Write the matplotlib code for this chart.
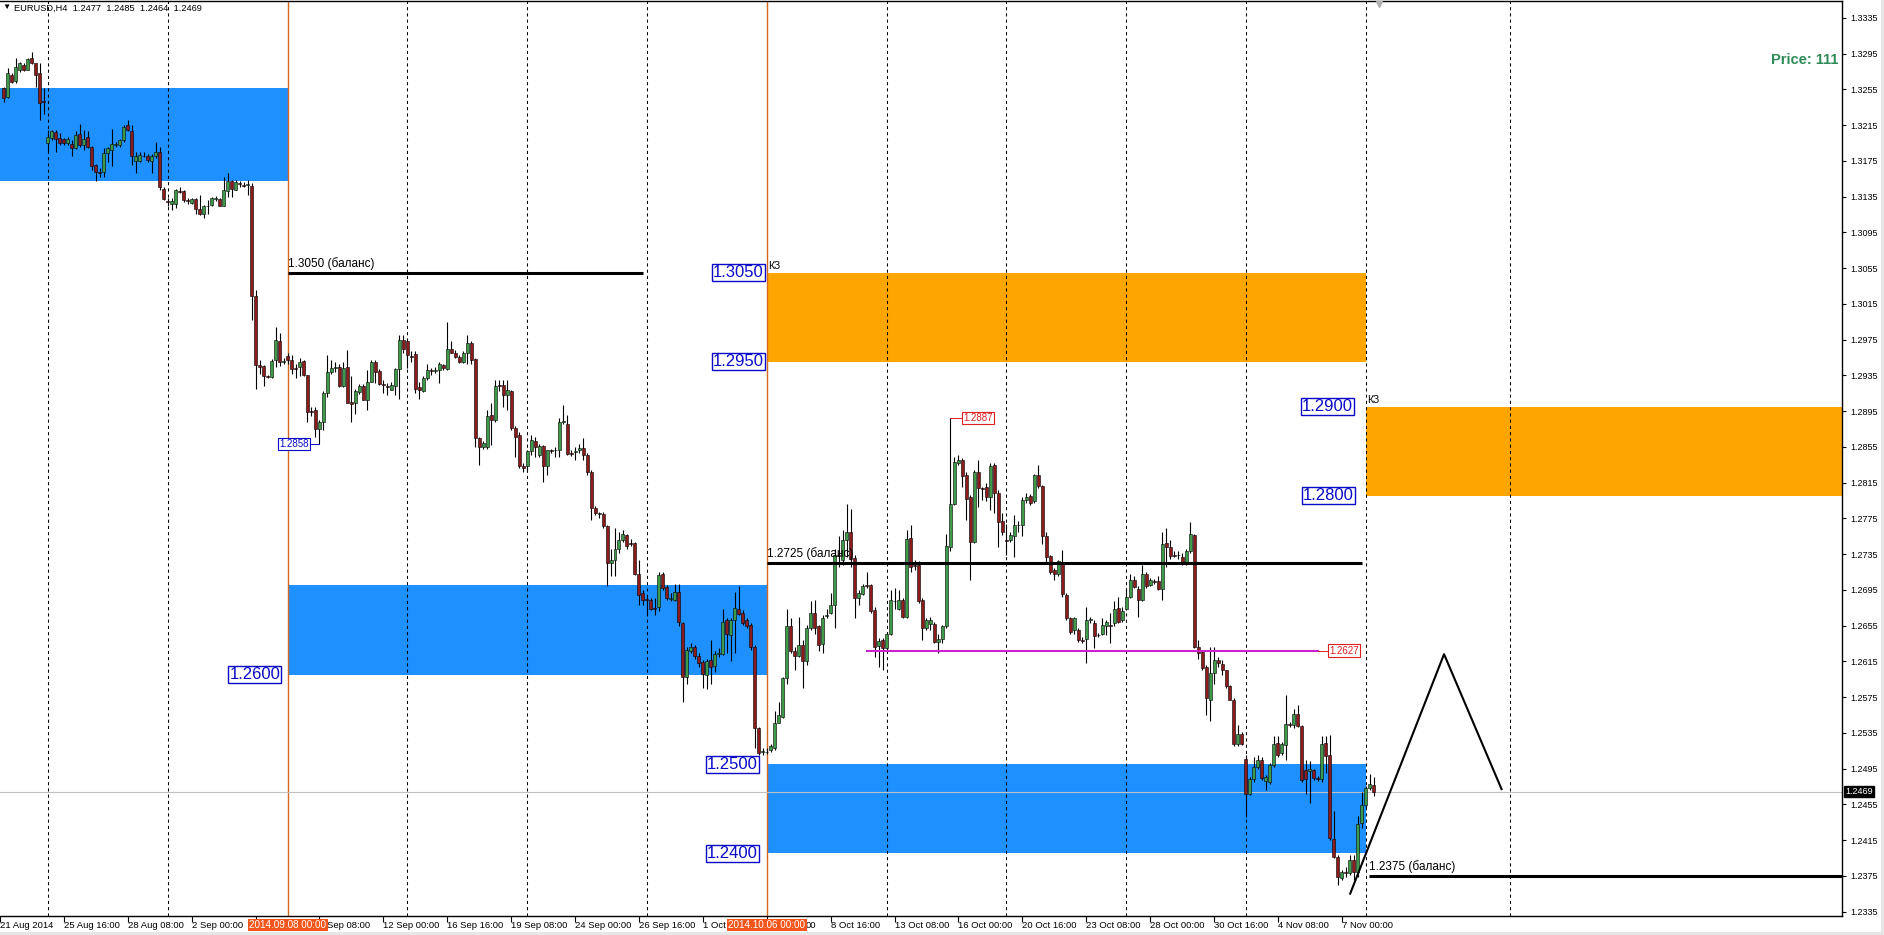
import numpy as np
import matplotlib
matplotlib.use("Agg")
import matplotlib.pyplot as plt
import matplotlib.transforms as mtransforms
from matplotlib.patches import Rectangle

# ---------------- data ----------------
# EURUSD H4 candles, bar index 0 = 2014.09.08 00:00 (weekends skipped)
FIRST_BAR = -71

OPEN = [
    1.3256, 1.3246, 1.3271, 1.3264, 1.3277, 1.3282, 1.3277, 1.3290, 1.3284, 1.3273,
    1.3242, 1.3195, 1.3201, 1.3207, 1.3201, 1.3199, 1.3195, 1.3194, 1.3189, 1.3205,
    1.3193, 1.3202, 1.3191, 1.3170, 1.3162, 1.3162, 1.3184, 1.3187, 1.3193, 1.3193,
    1.3198, 1.3215, 1.3208, 1.3175, 1.3175, 1.3181, 1.3180, 1.3175, 1.3180, 1.3185,
    1.3144, 1.3130, 1.3127, 1.3127, 1.3141, 1.3141, 1.3131, 1.3128, 1.3132, 1.3121,
    1.3116, 1.3124, 1.3126, 1.3132, 1.3132, 1.3125, 1.3141, 1.3153, 1.3142, 1.3150,
    1.3148, 1.3148, 1.3147, 1.3024, 1.2947, 1.2945, 1.2934, 1.2933, 1.2952, 1.2973,
    1.2950, 1.2957, 1.2952, 1.2943, 1.2944, 1.2951, 1.2935, 1.2895, 1.2896, 1.2875,
    1.2883, 1.2915, 1.2939, 1.2943, 1.2944, 1.2923, 1.2944, 1.2905, 1.2904, 1.2916,
    1.2923, 1.2907, 1.2928, 1.2950, 1.2940, 1.2925, 1.2923, 1.2919, 1.2923, 1.2942,
    1.2975, 1.2973, 1.2957, 1.2959, 1.2922, 1.2917, 1.2932, 1.2941, 1.2940, 1.2941,
    1.2947, 1.2942, 1.2964, 1.2960, 1.2956, 1.2950, 1.2960, 1.2971, 1.2953, 1.2865,
    1.2855, 1.2855, 1.2891, 1.2885, 1.2924, 1.2924, 1.2913, 1.2917, 1.2876, 1.2868,
    1.2834, 1.2833, 1.2850, 1.2861, 1.2846, 1.2856, 1.2833, 1.2851, 1.2851, 1.2852,
    1.2883, 1.2881, 1.2848, 1.2849, 1.2851, 1.2854, 1.2846, 1.2827, 1.2786, 1.2780,
    1.2780, 1.2766, 1.2725, 1.2728, 1.2741, 1.2751, 1.2756, 1.2747, 1.2747, 1.2713,
    1.2691, 1.2685, 1.2684, 1.2675, 1.2676, 1.2713, 1.2698, 1.2685, 1.2684, 1.2693,
    1.2658, 1.2598, 1.2627, 1.2631, 1.2621, 1.2614, 1.2600, 1.2616, 1.2610, 1.2623,
    1.2623, 1.2661, 1.2645, 1.2661, 1.2674, 1.2669, 1.2661, 1.2656, 1.2631, 1.2540,
    1.2514, 1.2514, 1.2516, 1.2518, 1.2546, 1.2553, 1.2596, 1.2655, 1.2627, 1.2621,
    1.2633, 1.2615, 1.2652, 1.2669, 1.2654, 1.2634, 1.2666, 1.2669, 1.2678, 1.2734,
    1.2728, 1.2751, 1.2760, 1.2731, 1.2686, 1.2690, 1.2700, 1.2700, 1.2672, 1.2632,
    1.2639, 1.2630, 1.2646, 1.2683, 1.2674, 1.2684, 1.2665, 1.2753, 1.2723, 1.2723,
    1.2684, 1.2652, 1.2657, 1.2657, 1.2637, 1.2640, 1.2654, 1.2743, 1.2791, 1.2837,
    1.2840, 1.2824, 1.2799, 1.2748, 1.2827, 1.2809, 1.2810, 1.2799, 1.2835, 1.2803,
    1.2772, 1.2751, 1.2751, 1.2755, 1.2767, 1.2768, 1.2796, 1.2800, 1.2794, 1.2824,
    1.2811, 1.2755, 1.2733, 1.2717, 1.2713, 1.2725, 1.2689, 1.2663, 1.2650, 1.2650,
    1.2639, 1.2640, 1.2661, 1.2658, 1.2645, 1.2646, 1.2654, 1.2656, 1.2658, 1.2675,
    1.2661, 1.2674, 1.2687, 1.2706, 1.2696, 1.2684, 1.2713, 1.2700, 1.2705, 1.2705,
    1.2696, 1.2747, 1.2743, 1.2734, 1.2734, 1.2732, 1.2725, 1.2738, 1.2756, 1.2631,
    1.2625, 1.2609, 1.2572, 1.2602, 1.2617, 1.2612, 1.2605, 1.2587, 1.2572, 1.2523,
    1.2534, 1.2506, 1.2467, 1.2483, 1.2497, 1.2505, 1.2481, 1.2480, 1.2499, 1.2524,
    1.2512, 1.2521, 1.2545, 1.2544, 1.2556, 1.2543, 1.2493, 1.2492, 1.2493, 1.2484,
    1.2483, 1.2524, 1.2510, 1.2416, 1.2396, 1.2373, 1.2379, 1.2378, 1.2393, 1.2379,
    1.2434, 1.2454, 1.2473, 1.2477,
]
HIGH = [
    1.3258, 1.3279, 1.3273, 1.3290, 1.3286, 1.3284, 1.3290, 1.3297, 1.3285, 1.3284,
    1.3256, 1.3210, 1.3210, 1.3210, 1.3206, 1.3201, 1.3202, 1.3198, 1.3208, 1.3216,
    1.3210, 1.3208, 1.3192, 1.3172, 1.3167, 1.3189, 1.3191, 1.3211, 1.3196, 1.3200,
    1.3215, 1.3221, 1.3215, 1.3185, 1.3185, 1.3185, 1.3183, 1.3183, 1.3196, 1.3191,
    1.3146, 1.3133, 1.3133, 1.3144, 1.3146, 1.3142, 1.3133, 1.3134, 1.3133, 1.3137,
    1.3126, 1.3131, 1.3135, 1.3136, 1.3133, 1.3157, 1.3161, 1.3154, 1.3154, 1.3152,
    1.3151, 1.3154, 1.3150, 1.3031, 1.2952, 1.2947, 1.2935, 1.2953, 1.2989, 1.2982,
    1.2954, 1.2960, 1.2958, 1.2948, 1.2954, 1.2952, 1.2935, 1.2900, 1.2900, 1.2885,
    1.2917, 1.2958, 1.2952, 1.2950, 1.2948, 1.2950, 1.2963, 1.2934, 1.2920, 1.2925,
    1.2925, 1.2941, 1.2952, 1.2952, 1.2942, 1.2930, 1.2926, 1.2927, 1.2943, 1.2980,
    1.2980, 1.2976, 1.2962, 1.2962, 1.2928, 1.2934, 1.2948, 1.2943, 1.2944, 1.2950,
    1.2948, 1.2995, 1.2973, 1.2963, 1.2958, 1.2962, 1.2980, 1.2973, 1.2954, 1.2866,
    1.2861, 1.2896, 1.2904, 1.2930, 1.2930, 1.2930, 1.2930, 1.2919, 1.2878, 1.2872,
    1.2837, 1.2852, 1.2868, 1.2866, 1.2858, 1.2857, 1.2852, 1.2853, 1.2855, 1.2887,
    1.2902, 1.2891, 1.2851, 1.2855, 1.2858, 1.2865, 1.2848, 1.2829, 1.2789, 1.2782,
    1.2782, 1.2768, 1.2741, 1.2764, 1.2760, 1.2762, 1.2758, 1.2752, 1.2749, 1.2728,
    1.2695, 1.2687, 1.2686, 1.2686, 1.2715, 1.2715, 1.2700, 1.2691, 1.2702, 1.2702,
    1.2659, 1.2631, 1.2635, 1.2633, 1.2624, 1.2616, 1.2618, 1.2639, 1.2626, 1.2630,
    1.2674, 1.2663, 1.2663, 1.2693, 1.2699, 1.2672, 1.2663, 1.2658, 1.2633, 1.2542,
    1.2518, 1.2518, 1.2523, 1.2559, 1.2570, 1.2598, 1.2674, 1.2663, 1.2631, 1.2665,
    1.2639, 1.2656, 1.2682, 1.2684, 1.2656, 1.2667, 1.2674, 1.2691, 1.2741, 1.2755,
    1.2762, 1.2791, 1.2785, 1.2734, 1.2695, 1.2702, 1.2715, 1.2702, 1.2676, 1.2641,
    1.2641, 1.2648, 1.2695, 1.2697, 1.2695, 1.2686, 1.2762, 1.2768, 1.2728, 1.2727,
    1.2686, 1.2663, 1.2665, 1.2659, 1.2646, 1.2656, 1.2758, 1.2887, 1.2844, 1.2846,
    1.2842, 1.2827, 1.2801, 1.2829, 1.2840, 1.2810, 1.2814, 1.2837, 1.2837, 1.2807,
    1.2781, 1.2769, 1.2760, 1.2779, 1.2772, 1.2799, 1.2803, 1.2802, 1.2825, 1.2835,
    1.2812, 1.2760, 1.2734, 1.2719, 1.2728, 1.2740, 1.2691, 1.2665, 1.2665, 1.2652,
    1.2642, 1.2676, 1.2665, 1.2661, 1.2647, 1.2663, 1.2661, 1.2669, 1.2682, 1.2687,
    1.2676, 1.2697, 1.2713, 1.2710, 1.2699, 1.2723, 1.2715, 1.2708, 1.2707, 1.2710,
    1.2760, 1.2764, 1.2751, 1.2738, 1.2738, 1.2736, 1.2741, 1.2771, 1.2758, 1.2639,
    1.2626, 1.2611, 1.2631, 1.2631, 1.2620, 1.2617, 1.2605, 1.2589, 1.2574, 1.2544,
    1.2536, 1.2510, 1.2486, 1.2508, 1.2510, 1.2508, 1.2488, 1.2501, 1.2531, 1.2531,
    1.2525, 1.2577, 1.2547, 1.2562, 1.2566, 1.2544, 1.2505, 1.2503, 1.2495, 1.2487,
    1.2531, 1.2531, 1.2533, 1.2447, 1.2398, 1.2382, 1.2385, 1.2398, 1.2398, 1.2442,
    1.2469, 1.2476, 1.2489, 1.2485,
]
LOW = [
    1.3241, 1.3245, 1.3262, 1.3262, 1.3275, 1.3276, 1.3277, 1.3283, 1.3258, 1.3221,
    1.3228, 1.3185, 1.3198, 1.3185, 1.3193, 1.3193, 1.3193, 1.3180, 1.3188, 1.3191,
    1.3187, 1.3189, 1.3165, 1.3153, 1.3157, 1.3157, 1.3174, 1.3169, 1.3191, 1.3191,
    1.3196, 1.3208, 1.3170, 1.3161, 1.3174, 1.3179, 1.3174, 1.3161, 1.3178, 1.3142,
    1.3131, 1.3124, 1.3120, 1.3122, 1.3139, 1.3129, 1.3127, 1.3127, 1.3116, 1.3114,
    1.3111, 1.3116, 1.3125, 1.3130, 1.3124, 1.3124, 1.3135, 1.3135, 1.3142, 1.3146,
    1.3146, 1.3137, 1.2997, 1.2920, 1.2937, 1.2923, 1.2932, 1.2932, 1.2944, 1.2945,
    1.2948, 1.2948, 1.2937, 1.2932, 1.2934, 1.2934, 1.2883, 1.2889, 1.2866, 1.2858,
    1.2874, 1.2911, 1.2937, 1.2939, 1.2922, 1.2922, 1.2904, 1.2883, 1.2892, 1.2914,
    1.2907, 1.2896, 1.2927, 1.2926, 1.2924, 1.2915, 1.2913, 1.2919, 1.2913, 1.2909,
    1.2960, 1.2943, 1.2950, 1.2915, 1.2909, 1.2916, 1.2930, 1.2935, 1.2938, 1.2926,
    1.2941, 1.2941, 1.2960, 1.2954, 1.2949, 1.2949, 1.2948, 1.2948, 1.2855, 1.2835,
    1.2853, 1.2853, 1.2857, 1.2883, 1.2917, 1.2900, 1.2896, 1.2874, 1.2844, 1.2831,
    1.2827, 1.2827, 1.2846, 1.2844, 1.2844, 1.2816, 1.2824, 1.2848, 1.2844, 1.2844,
    1.2881, 1.2846, 1.2845, 1.2840, 1.2848, 1.2840, 1.2824, 1.2773, 1.2779, 1.2775,
    1.2764, 1.2699, 1.2710, 1.2710, 1.2736, 1.2749, 1.2741, 1.2744, 1.2712, 1.2678,
    1.2678, 1.2667, 1.2672, 1.2667, 1.2671, 1.2695, 1.2684, 1.2683, 1.2683, 1.2654,
    1.2570, 1.2590, 1.2624, 1.2618, 1.2609, 1.2585, 1.2584, 1.2590, 1.2603, 1.2620,
    1.2622, 1.2624, 1.2615, 1.2624, 1.2667, 1.2656, 1.2652, 1.2628, 1.2518, 1.2510,
    1.2510, 1.2511, 1.2514, 1.2516, 1.2546, 1.2552, 1.2590, 1.2624, 1.2605, 1.2620,
    1.2585, 1.2611, 1.2650, 1.2646, 1.2626, 1.2624, 1.2663, 1.2668, 1.2652, 1.2721,
    1.2723, 1.2732, 1.2721, 1.2664, 1.2678, 1.2689, 1.2697, 1.2669, 1.2620, 1.2609,
    1.2605, 1.2628, 1.2645, 1.2674, 1.2672, 1.2663, 1.2663, 1.2715, 1.2717, 1.2680,
    1.2639, 1.2650, 1.2650, 1.2635, 1.2624, 1.2636, 1.2652, 1.2738, 1.2790, 1.2835,
    1.2810, 1.2773, 1.2706, 1.2747, 1.2788, 1.2796, 1.2794, 1.2784, 1.2781, 1.2743,
    1.2756, 1.2734, 1.2749, 1.2732, 1.2760, 1.2755, 1.2792, 1.2790, 1.2792, 1.2809,
    1.2746, 1.2725, 1.2713, 1.2706, 1.2710, 1.2687, 1.2661, 1.2646, 1.2646, 1.2637,
    1.2635, 1.2613, 1.2658, 1.2630, 1.2642, 1.2645, 1.2645, 1.2635, 1.2654, 1.2658,
    1.2659, 1.2672, 1.2686, 1.2697, 1.2665, 1.2682, 1.2697, 1.2699, 1.2702, 1.2695,
    1.2684, 1.2721, 1.2730, 1.2732, 1.2730, 1.2723, 1.2723, 1.2736, 1.2630, 1.2618,
    1.2605, 1.2555, 1.2548, 1.2590, 1.2609, 1.2600, 1.2585, 1.2572, 1.2520, 1.2520,
    1.2521, 1.2441, 1.2465, 1.2480, 1.2495, 1.2482, 1.2471, 1.2478, 1.2497, 1.2508,
    1.2510, 1.2505, 1.2542, 1.2540, 1.2542, 1.2480, 1.2467, 1.2457, 1.2482, 1.2481,
    1.2480, 1.2490, 1.2415, 1.2395, 1.2365, 1.2370, 1.2374, 1.2376, 1.2370, 1.2374,
    1.2428, 1.2452, 1.2471, 1.2464,
]
CLOSE = [
    1.3245, 1.3273, 1.3263, 1.3280, 1.3284, 1.3277, 1.3289, 1.3284, 1.3271, 1.3240,
    1.3241, 1.3202, 1.3208, 1.3199, 1.3195, 1.3195, 1.3200, 1.3189, 1.3204, 1.3193,
    1.3200, 1.3190, 1.3169, 1.3163, 1.3161, 1.3184, 1.3189, 1.3194, 1.3194, 1.3198,
    1.3213, 1.3210, 1.3180, 1.3181, 1.3182, 1.3180, 1.3176, 1.3180, 1.3185, 1.3146,
    1.3132, 1.3129, 1.3130, 1.3142, 1.3140, 1.3131, 1.3130, 1.3132, 1.3121, 1.3116,
    1.3124, 1.3125, 1.3133, 1.3133, 1.3125, 1.3142, 1.3152, 1.3143, 1.3151, 1.3149,
    1.3147, 1.3149, 1.3024, 1.2947, 1.2944, 1.2934, 1.2933, 1.2951, 1.2975, 1.2950,
    1.2951, 1.2952, 1.2942, 1.2942, 1.2950, 1.2935, 1.2894, 1.2894, 1.2875, 1.2883,
    1.2915, 1.2939, 1.2943, 1.2944, 1.2923, 1.2943, 1.2904, 1.2903, 1.2918, 1.2923,
    1.2907, 1.2928, 1.2950, 1.2939, 1.2925, 1.2924, 1.2922, 1.2924, 1.2942, 1.2975,
    1.2965, 1.2958, 1.2956, 1.2920, 1.2919, 1.2932, 1.2941, 1.2940, 1.2941, 1.2948,
    1.2943, 1.2965, 1.2960, 1.2956, 1.2950, 1.2960, 1.2971, 1.2952, 1.2865, 1.2855,
    1.2859, 1.2889, 1.2885, 1.2923, 1.2923, 1.2913, 1.2919, 1.2876, 1.2866, 1.2833,
    1.2831, 1.2850, 1.2863, 1.2855, 1.2856, 1.2833, 1.2851, 1.2850, 1.2852, 1.2883,
    1.2884, 1.2847, 1.2847, 1.2850, 1.2854, 1.2846, 1.2827, 1.2787, 1.2781, 1.2781,
    1.2766, 1.2725, 1.2728, 1.2741, 1.2751, 1.2758, 1.2744, 1.2746, 1.2713, 1.2689,
    1.2684, 1.2684, 1.2674, 1.2674, 1.2712, 1.2697, 1.2686, 1.2686, 1.2693, 1.2659,
    1.2597, 1.2628, 1.2631, 1.2621, 1.2613, 1.2601, 1.2615, 1.2609, 1.2623, 1.2624,
    1.2659, 1.2646, 1.2661, 1.2675, 1.2668, 1.2658, 1.2655, 1.2631, 1.2540, 1.2512,
    1.2515, 1.2513, 1.2520, 1.2546, 1.2555, 1.2596, 1.2655, 1.2626, 1.2621, 1.2633,
    1.2615, 1.2652, 1.2669, 1.2652, 1.2633, 1.2664, 1.2667, 1.2678, 1.2734, 1.2733,
    1.2751, 1.2760, 1.2730, 1.2686, 1.2691, 1.2699, 1.2699, 1.2671, 1.2631, 1.2638,
    1.2630, 1.2646, 1.2684, 1.2682, 1.2684, 1.2665, 1.2752, 1.2721, 1.2722, 1.2682,
    1.2652, 1.2661, 1.2661, 1.2637, 1.2640, 1.2654, 1.2744, 1.2791, 1.2838, 1.2840,
    1.2822, 1.2797, 1.2749, 1.2827, 1.2809, 1.2808, 1.2799, 1.2834, 1.2803, 1.2771,
    1.2760, 1.2750, 1.2756, 1.2768, 1.2768, 1.2796, 1.2799, 1.2792, 1.2824, 1.2811,
    1.2755, 1.2732, 1.2715, 1.2713, 1.2727, 1.2690, 1.2663, 1.2648, 1.2663, 1.2639,
    1.2638, 1.2661, 1.2662, 1.2643, 1.2644, 1.2656, 1.2659, 1.2655, 1.2674, 1.2659,
    1.2671, 1.2687, 1.2706, 1.2698, 1.2684, 1.2713, 1.2699, 1.2706, 1.2704, 1.2696,
    1.2746, 1.2743, 1.2733, 1.2733, 1.2734, 1.2724, 1.2738, 1.2758, 1.2631, 1.2624,
    1.2607, 1.2574, 1.2602, 1.2617, 1.2613, 1.2605, 1.2587, 1.2572, 1.2523, 1.2534,
    1.2523, 1.2467, 1.2483, 1.2497, 1.2505, 1.2484, 1.2485, 1.2499, 1.2523, 1.2510,
    1.2522, 1.2545, 1.2544, 1.2556, 1.2543, 1.2482, 1.2483, 1.2494, 1.2484, 1.2483,
    1.2523, 1.2509, 1.2417, 1.2396, 1.2374, 1.2379, 1.2378, 1.2393, 1.2379, 1.2433,
    1.2454, 1.2473, 1.2478, 1.2469,
]

PRICE_TICKS = [1.3335, 1.3295, 1.3255, 1.3215, 1.3175, 1.3135, 1.3095, 1.3055, 1.3015,
               1.2975, 1.2935, 1.2895, 1.2855, 1.2815, 1.2775, 1.2735, 1.2695, 1.2655,
               1.2615, 1.2575, 1.2535, 1.2495, 1.2455, 1.2415, 1.2375, 1.2335]

TIME_TICKS = [-72, -56, -40, -24, -8, 8, 24, 40, 56, 72, 88, 104, 120, 136, 152,
              168, 184, 200, 216, 232, 248, 264]
TIME_LABELS = ["21 Aug 2014", "25 Aug 16:00", "28 Aug 08:00", "2 Sep 00:00",
               "4 Sep 16:00", "9 Sep 08:00", "12 Sep 00:00", "16 Sep 16:00",
               "19 Sep 08:00", "24 Sep 00:00", "26 Sep 16:00", "1 Oct 08:00",
               "6 Oct 00:00", "8 Oct 16:00", "13 Oct 08:00", "16 Oct 00:00",
               "20 Oct 16:00", "23 Oct 08:00", "28 Oct 00:00", "30 Oct 16:00",
               "4 Nov 08:00", "7 Nov 00:00"]

GRID_BARS = [-60, -30, 30, 60, 90, 150, 180, 210, 240, 270, 306]
VLINE_BARS = [0, 120]
VLINE_LABELS = ["2014.09.08 00:00", "2014.10.06 00:00"]

# zones: (start bar, end bar, low, high)
BLUE_ZONES = [(-80, 0, 1.3153, 1.3256), (0, 120, 1.2600, 1.2700), (120, 270, 1.2400, 1.2500)]
ORANGE_ZONES = [(120, 270, 1.2950, 1.3050), (270, 400, 1.2800, 1.2900)]
ZONE_TAGS = [(120, 1.3050), (270, 1.2900)]

# zone edge labels: (text, price, bar where the box ends)
ZONE_LABELS = [("1.3050", 1.3050, 119.7), ("1.2950", 1.2950, 119.7),
               ("1.2900", 1.2900, 267.2), ("1.2800", 1.2800, 267.5),
               ("1.2600", 1.2600, -1.3), ("1.2500", 1.2500, 118.2),
               ("1.2400", 1.2400, 118.2)]

# balance lines: (start bar, end bar, price)
BALANCE = [(0, 89, 1.3050), (120, 269, 1.2725), (270.8, 400, 1.2375)]

MAGENTA = (145, 258, 1.2627)
HIGH_MARK = (166, 1.2887)
LOW_MARK = (8, 1.2858)

TREND_BARS = [266.1, 289.6, 304.0]
TREND_PRICES = [1.2355, 1.2623, 1.2472]

LAST_PRICE = CLOSE[-1]

# ---------------- style ----------------
BLUE = "#1E90FF"
ORANGE = "#FFA500"
BULL = "#3C9A48"
BEAR = "#8E1B1B"
VLINE_COLOR = "#D2691E"
DATE_BG = "#F2561C"
LABEL_BLUE = "#0A0AC8"
LABEL_RED = "#E02020"

plt.rcParams["font.family"] = ["Liberation Sans", "DejaVu Sans"]

W, H = 1884, 935
fig = plt.figure(figsize=(W / 100, H / 100), dpi=100)
fig.patch.set_facecolor("white")
ax = fig.add_axes([0, (H - 916) / H, 1842 / W, 915 / H])
ax.set_xlim(-71.25, 389.25)
ax.set_ylim(1.2330, 1.33539)
ax.set_facecolor("white")


def px(dx, dy, base=None):
    return mtransforms.offset_copy(base or ax.transData, fig=fig, x=dx, y=dy, units="dots")


# zones
for x0, x1, lo, hi in BLUE_ZONES:
    ax.add_patch(Rectangle((x0, lo), x1 - x0, hi - lo, color=BLUE, lw=0, zorder=1))
for x0, x1, lo, hi in ORANGE_ZONES:
    ax.add_patch(Rectangle((x0, lo), x1 - x0, hi - lo, color=ORANGE, lw=0, zorder=1))

# grid & vertical lines
for b in GRID_BARS:
    ax.axvline(b, color="black", lw=0.75, ls=(0, (3, 3)), zorder=2)
for b in VLINE_BARS:
    ax.axvline(b, color=VLINE_COLOR, lw=1.0, zorder=2)

ax.axhline(LAST_PRICE, color="#C0C0C0", lw=0.8, zorder=2)

# candles
k = np.arange(FIRST_BAR, FIRST_BAR + len(CLOSE))
o, h, l, c = (np.array(a) for a in (OPEN, HIGH, LOW, CLOSE))
up = c >= o
ax.vlines(k, l, h, color="black", lw=0.8, zorder=4)
ax.bar(k[up], c[up] - o[up], bottom=o[up], width=0.75, color=BULL,
       edgecolor="black", lw=0.4, zorder=5)
ax.bar(k[~up], o[~up] - c[~up], bottom=c[~up], width=0.75, color=BEAR,
       edgecolor="black", lw=0.4, zorder=5)

# balance lines
for x0, x1, p in BALANCE:
    ax.plot([x0, x1], [p, p], color="black", lw=2.2, solid_capstyle="butt", zorder=6)
    ax.text(x0, p, f"{p:.4f} (баланс)", transform=px(0, 3), ha="left", va="bottom",
            fontsize=8.5, color="black", zorder=7)

# magenta level
mx0, mx1, mp = MAGENTA
ax.plot([mx0, mx1], [mp, mp], color="#CC22CC", lw=1.5, zorder=6)
ax.plot([mx1, mx1 + 2.6], [mp, mp], color=LABEL_RED, lw=0.7, zorder=6)
ax.text(mx1 + 2.6, mp, f"{mp:.4f}", transform=px(1, 0), ha="left", va="center",
        fontsize=7, color=LABEL_RED, zorder=8,
        bbox=dict(boxstyle="square,pad=0.12", fc="white", ec=LABEL_RED, lw=0.8))

# swing high / low marks
hb, hp = HIGH_MARK
ax.plot([hb, hb + 3], [hp, hp], color=LABEL_RED, lw=0.7, zorder=6)
ax.text(hb + 3, hp, f"{hp:.4f}", transform=px(1, 0), ha="left", va="center",
        fontsize=7, color=LABEL_RED, zorder=8,
        bbox=dict(boxstyle="square,pad=0.12", fc="white", ec=LABEL_RED, lw=0.8))
lb, lp = LOW_MARK
ax.plot([lb - 2.5, lb], [lp, lp], color=LABEL_BLUE, lw=0.7, zorder=6)
ax.text(lb - 2.5, lp, f"{lp:.4f}", transform=px(-1, 0), ha="right", va="center",
        fontsize=7, color=LABEL_BLUE, zorder=8,
        bbox=dict(boxstyle="square,pad=0.12", fc="white", ec=LABEL_BLUE, lw=0.8))

# zone labels
for txt, p, xb in ZONE_LABELS:
    ax.text(xb, p, txt, transform=px(-2, 0), ha="right", va="center", fontsize=12,
            color=LABEL_BLUE, zorder=8,
            bbox=dict(boxstyle="square,pad=0.06", fc="white", ec=LABEL_BLUE, lw=1.0))
for xb, p in ZONE_TAGS:
    ax.text(xb, p, "КЗ", transform=px(1, 2), ha="left", va="bottom", fontsize=7.5,
            color="black", zorder=8)

# projected path
ax.plot(TREND_BARS, TREND_PRICES, color="black", lw=1.5, zorder=6)

# header & info
ax.text(0.0015, 0.9925, "\u25bc", transform=ax.transAxes, fontsize=6, ha="left",
        va="center", color="black")
ax.text(0.0075, 0.9925, f"EURUSD,H4  {OPEN[-1]:.4f}  {HIGH[-1]:.4f}  {LOW[-1]:.4f}  {CLOSE[-1]:.4f}",
        transform=ax.transAxes, fontsize=6.7, ha="left", va="center", color="black")
ax.text(0.9978, 0.9355, "Price: 111", transform=ax.transAxes, fontsize=10.5,
        fontweight="bold", ha="right", va="center", color="#2E8B57")
ax.plot([273.3], [1.3350], marker="v", color="#B0B0B0", ms=5, clip_on=False, zorder=9)

# axes styling
ax.spines["left"].set_visible(False)
for side in ("top", "right", "bottom"):
    ax.spines[side].set_linewidth(1.0)
    ax.spines[side].set_color("black")

ax.yaxis.tick_right()
ax.set_yticks(PRICE_TICKS, [f"{t:.4f}" for t in PRICE_TICKS])
ax.tick_params(axis="y", length=3, width=0.8, pad=3, labelsize=6.5)
ax.set_xticks(TIME_TICKS, [""] * len(TIME_TICKS))
ax.tick_params(axis="x", length=4, width=0.8)

dt = mtransforms.blended_transform_factory(ax.transData, ax.transAxes)
time_texts = [ax.text(t, 0, s, transform=px(0, -5, dt), ha="left", va="top",
                      fontsize=6.8, clip_on=False)
              for t, s in zip(TIME_TICKS, TIME_LABELS)]

# current price box on price scale
bt = mtransforms.blended_transform_factory(ax.transAxes, ax.transData)
ax.text(1.0, LAST_PRICE, f"{LAST_PRICE:.4f}", transform=px(3, 0, bt), ha="left",
        va="center", fontsize=6.5, color="white", zorder=10, clip_on=False,
        bbox=dict(boxstyle="square,pad=0.12", fc="black", ec="black"))

# date boxes for vertical lines (they sit on top of the time scale)
date_boxes = [ax.text(b, 0, txt, transform=px(0, -9, dt), ha="center", va="center",
                      fontsize=7.1, color="white", zorder=10, clip_on=False,
                      bbox=dict(boxstyle="square,pad=0.15", fc=DATE_BG, ec="none"))
              for b, txt in zip(VLINE_BARS, VLINE_LABELS)]

# the date boxes hide parts of the time labels: keep only the visible part
fig.canvas.draw()
rend = fig.canvas.get_renderer()
covers = [t.get_bbox_patch().get_window_extent(rend) for t in date_boxes]
for tt in time_texts:
    for bb in covers:
        ext = tt.get_window_extent(rend)
        if not (ext.x1 > bb.x0 and ext.x0 < bb.x1):
            continue
        s = tt.get_text()
        if ext.x0 < bb.x0:
            while s and tt.get_window_extent(rend).x1 > bb.x0 + 1:
                s = s[:-1].rstrip()
                tt.set_text(s)
        else:
            tt.set_transform(mtransforms.IdentityTransform())
            tt.set_position((ext.x1, ext.y1))
            tt.set_horizontalalignment("right")
            while s and tt.get_window_extent(rend).x0 < bb.x1 - 2:
                s = s[1:].lstrip()
                tt.set_text(s)
        if not s:
            tt.set_visible(False)

# window frame
fig.add_artist(Rectangle((1881 / W, 0), 3 / W, 1, transform=fig.transFigure,
                         color="#E6E6E6", lw=0))
fig.add_artist(Rectangle((0, 0), 1, 3 / H, transform=fig.transFigure,
                         color="#E6E6E6", lw=0))

fig.savefig("out.png", dpi=100)
